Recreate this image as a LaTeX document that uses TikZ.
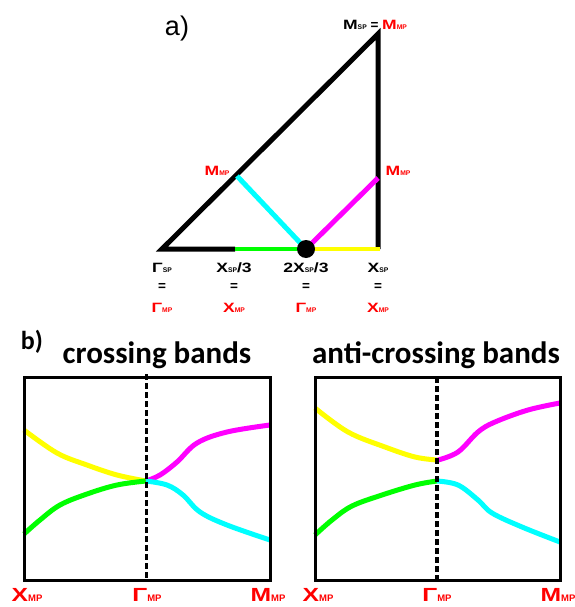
\documentclass[tikz,border=0pt]{standalone}
\usepackage{fontspec}
\usepackage{graphicx}
\setmainfont{Liberation Sans}
\newfontfamily\carl{Carlito}
\definecolor{ylw}{RGB}{255,255,0}
\definecolor{grn}{RGB}{0,255,0}
\definecolor{cyn}{RGB}{0,255,255}
\definecolor{mgt}{RGB}{255,0,255}
\definecolor{rd}{RGB}{255,0,0}
\newcommand{\W}[1]{\scalebox{1.3}[1]{#1}}
\newcommand{\sbx}[1]{\scalebox{0.5}{#1}}
\tikzset{
  edge/.style={line width=5pt},
  band/.style={line width=5pt, line cap=butt},
  frame/.style={line width=3pt},
  kdash/.style={line width=3pt, dash pattern=on 6pt off 3pt},
  lab/.style={font=\fontsize{13.5}{13.5}\selectfont\bfseries, inner sep=0pt, anchor=center},
  blab/.style={font=\fontsize{19}{19}\selectfont\bfseries, inner sep=0pt, text=rd, anchor=center},
  ttl/.style={font=\carl\bfseries\fontsize{31}{31}\selectfont, inner sep=0pt, anchor=base},
}
\begin{document}
\begin{tikzpicture}[x=1pt,y=-1pt]
\useasboundingbox (0,0) rectangle (574,607);
% ---------- a) triangle
\coordinate (G) at (162,249);
\coordinate (X) at (378,249);
\coordinate (M) at (378,34);
\coordinate (g3) at (235,249);
\coordinate (c) at (306,249);
\coordinate (mL) at (237,176);
\coordinate (mR) at (378,178);
\draw[edge, line join=miter] (g3) -- (G) -- (M) -- (X);
\draw[line width=4.5pt, grn] (g3) -- (c);
\draw[line width=4.5pt, ylw] (c) -- ([xshift=2pt]X);
\draw[line width=5pt, cyn] (mL) -- (c);
\draw[line width=5pt, mgt] (c) -- (mR);
\fill (c) circle (9pt);
\node[font=\fontsize{27}{27}\selectfont, inner sep=0pt] (a) at (177,29) {a)};
\node[lab] (top) at (375,25) {\W{M}\sbx{SP} = \textcolor{rd}{\W{M}\sbx{MP}}};
\node[lab, text=rd] (mLl) at (217,171) {\W{M}\sbx{MP}};
\node[lab, text=rd] (mRl) at (398,171) {\W{M}\sbx{MP}};
\node[lab] (l1) at (162,268) {\W{Γ}\sbx{SP}};
\node[lab] (l2) at (234,268) {\W{X}\sbx{SP}\W{/3}};
\node[lab] (l3) at (306,268) {\W{2X}\sbx{SP}\W{/3}};
\node[lab] (l4) at (378,268) {\W{X}\sbx{SP}};
\foreach \x/\n in {162/e1,234/e2,306/e3,378/e4}
  \node[lab] (\n) at (\x,287) {=};
\node[lab, text=rd] (r1) at (162,308) {\W{Γ}\sbx{MP}};
\node[lab, text=rd] (r2) at (234,308) {\W{X}\sbx{MP}};
\node[lab, text=rd] (r3) at (306,308) {\W{Γ}\sbx{MP}};
\node[lab, text=rd] (r4) at (378,308) {\W{X}\sbx{MP}};
% ---------- b) titles
\node[font=\carl\bfseries\fontsize{26}{26}\selectfont, inner sep=0pt] (b) at (32,342) {b)};
\node[ttl] (t1) at (157,363) {crossing bands};
\node[ttl] (t2) at (436,363) {anti-crossing bands};
% ---------- left panel
\draw[band, ylw] plot[smooth, tension=0.6] coordinates {(24,430) (57,453) (87,465) (117,475) (146,481)};
\draw[band, grn] plot[smooth, tension=0.6] coordinates {(24,534) (40,520) (60,505) (87,494) (117,485) (146,481)};
\draw[band, mgt] plot[smooth, tension=0.6] coordinates {(146,481) (160,475) (177,462) (197,443) (227,432) (270,425)};
\draw[band, cyn] plot[smooth, tension=0.6] coordinates {(146,481) (167,485) (183,495) (200,512) (227,525) (270,540)};
\node[draw, frame, minimum width=246pt, minimum height=203pt, inner sep=0pt] (p1) at (147,478.5) {};
\coordinate (d1t) at (146,374);
\draw[kdash] (d1t) -- (d1t |- p1.south);
\node[blab] (x1) at (27,595) {\W{X}\sbx{MP}};
\node[blab] (g1) at (147,595) {\W{Γ}\sbx{MP}};
\node[blab] (m1) at (268,595) {\W{M}\sbx{MP}};
% ---------- right panel
\draw[band, ylw] plot[smooth, tension=0.6] coordinates {(315,408) (348,432) (385,447) (415,457) (437,460)};
\draw[band, mgt] plot[smooth, tension=0.6] coordinates {(438,460) (458,452) (478,432) (495,422) (528,410) (560,403)};
\draw[band, grn] plot[smooth, tension=0.6] coordinates {(315,535) (332,520) (352,506) (382,495) (415,485) (437,481)};
\draw[band, cyn] plot[smooth, tension=0.6] coordinates {(437,481) (458,485) (478,500) (492,513) (522,527) (560,542)};
\node[draw, frame, minimum width=245pt, minimum height=203pt, inner sep=0pt] (p2) at (437.5,478.5) {};
\coordinate (d2t) at (437,377);
\draw[kdash, line width=3.5pt] (d2t) -- (d2t |- p2.south);
\node[blab] (x2) at (318,595) {\W{X}\sbx{MP}};
\node[blab] (g2) at (437,595) {\W{Γ}\sbx{MP}};
\node[blab] (m2) at (558,595) {\W{M}\sbx{MP}};
\end{tikzpicture}
\end{document}
